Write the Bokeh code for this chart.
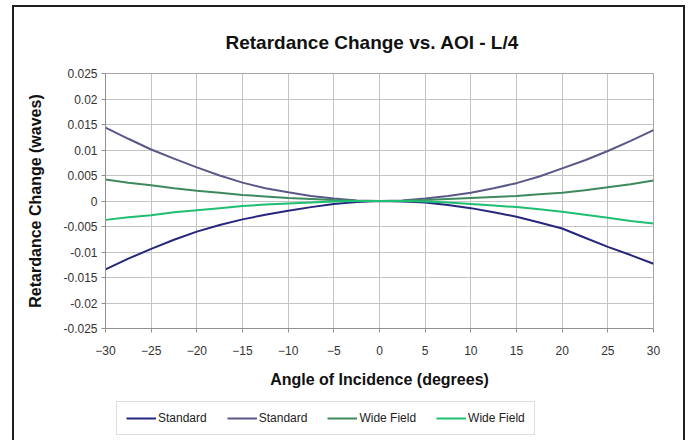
from bokeh.plotting import figure
from bokeh.models import FixedTicker, Legend, LegendItem
from bokeh.layouts import column
from bokeh.embed import file_html
from bokeh.resources import INLINE

# ---- data ----
angles = [-30, -27.5, -25, -22.5, -20, -17.5, -15, -12.5, -10, -7.5, -5, -2.5, 0,
          2.5, 5, 7.5, 10, 12.5, 15, 17.5, 20, 22.5, 25, 27.5, 30]

standard_low = [-0.0134, -0.0113, -0.0094, -0.0076, -0.0060, -0.0047, -0.0036, -0.0027,
                -0.0019, -0.0012, -0.0006, -0.0002, 0.0, -0.0001, -0.0003, -0.0008,
                -0.0014, -0.0022, -0.0031, -0.0042, -0.0054, -0.0072, -0.0090, -0.0106, -0.0123]
standard_high = [0.0144, 0.0122, 0.0101, 0.0083, 0.0066, 0.0050, 0.0036, 0.0025,
                 0.0017, 0.0010, 0.0005, 0.0001, 0.0, 0.0001, 0.0005, 0.0010,
                 0.0016, 0.0025, 0.0035, 0.0048, 0.0064, 0.0080, 0.0098, 0.0118, 0.0139]
wide_high = [0.0042, 0.0036, 0.0031, 0.0025, 0.0020, 0.0016, 0.0012, 0.0009,
             0.0006, 0.0004, 0.0002, 0.00005, 0.0, 0.00005, 0.0002, 0.0004,
             0.0006, 0.0008, 0.0010, 0.0013, 0.0016, 0.0021, 0.0027, 0.0033, 0.0040]
wide_low = [-0.0037, -0.0032, -0.0028, -0.0022, -0.0018, -0.0014, -0.0010, -0.0007,
            -0.0005, -0.0003, -0.0001, 0.0, 0.0, 0.0, -0.0001, -0.0003,
            -0.0006, -0.0009, -0.0012, -0.0016, -0.0021, -0.0027, -0.0033, -0.0039, -0.0044]

series_names = ["Standard", "Standard", "Wide Field", "Wide Field"]
series_colors = ["#26267e", "#5a5888", "#3e8a5e", "#1fbf72"]

x_ticks = [-30, -25, -20, -15, -10, -5, 0, 5, 10, 15, 20, 25, 30]
y_ticks = [-0.025, -0.02, -0.015, -0.01, -0.005, 0, 0.005, 0.01, 0.015, 0.02, 0.025]
y_tick_labels = ["-0.025", "-0.02", "-0.015", "-0.01", "-0.005", "0",
                 "0.005", "0.01", "0.015", "0.02", "0.025"]

FONT = "Liberation Sans"

p = figure(frame_width=548, frame_height=255, output_backend="svg", toolbar_location=None,
           x_range=(-30, 30), y_range=(-0.025, 0.025),
           min_border_left=91, min_border_right=30, min_border_top=66, min_border_bottom=67)

p.title.text = "Retardance Change vs. AOI - L/4"
p.title.align = "left"
p.title.offset = 120
p.title.text_font = FONT
p.title.text_font_size = "19px"
p.title.text_font_style = "bold"
p.title.text_color = "#111111"
p.title.standoff = 42

p.outline_line_color = "#a8a8a8"
p.background_fill_color = "white"
p.border_fill_color = "white"

for ax in (p.xaxis[0], p.yaxis[0]):
    ax.axis_line_color = "#909090"
    ax.major_tick_line_color = "#909090"
    ax.minor_tick_line_color = None
    ax.major_tick_out = 4
    ax.major_tick_in = 0
    ax.major_label_text_font = FONT
    ax.major_label_text_font_size = "12px"
    ax.major_label_text_color = "#333333"
    ax.axis_label_text_font = FONT
    ax.axis_label_text_font_size = "16px"
    ax.axis_label_text_font_style = "bold"
    ax.axis_label_text_color = "#111111"

p.xaxis.ticker = FixedTicker(ticks=x_ticks)
p.yaxis.ticker = FixedTicker(ticks=y_ticks)
p.yaxis.major_label_overrides = {t: l for t, l in zip(y_ticks, y_tick_labels)}
p.xaxis.axis_label = "Angle of Incidence (degrees)"
p.yaxis.axis_label = "Retardance Change (waves)"
p.xaxis.major_label_standoff = 13
p.xaxis.axis_label_standoff = 13
p.yaxis.major_label_standoff = 4
p.yaxis.axis_label_standoff = 16

p.xgrid.grid_line_color = "#c4c4c4"
p.ygrid.grid_line_color = "#c4c4c4"
p.xgrid.ticker = FixedTicker(ticks=x_ticks)
p.ygrid.ticker = FixedTicker(ticks=y_ticks)

all_series = [standard_low, standard_high, wide_high, wide_low]
for vals, col in zip(all_series, series_colors):
    p.line(angles, vals, line_color=col, line_width=2)

# ---- legend strip (separate figure below the chart) ----
# its ranges keep the series out of view; the series only supply legend glyphs
lf = figure(width=669, height=45, output_backend="svg", toolbar_location=None,
            x_range=(100, 101), y_range=(100, 101), min_border=0)
lf.axis.visible = False
lf.xgrid.visible = False
lf.ygrid.visible = False
lf.outline_line_color = None
lf.background_fill_color = "white"
lf.border_fill_color = "white"

leg_renderers = [lf.line(angles, vals, line_color=c, line_width=2)
                 for vals, c in zip(all_series, series_colors)]
legend = Legend(items=[LegendItem(label=n, renderers=[r]) for n, r in zip(series_names, leg_renderers)],
                orientation="horizontal", location=(11, 5))
legend.label_text_font = FONT
legend.label_text_font_size = "12px"
legend.label_text_color = "#222222"
legend.glyph_width = 30
legend.glyph_height = 14
legend.label_height = 14
legend.label_standoff = 2
legend.spacing = 20
legend.padding = 9
legend.margin = 0
legend.border_line_color = "#bdbdbd"
legend.border_line_width = 1
legend.background_fill_alpha = 1
lf.add_layout(legend, "center")

layout = column(p, lf, spacing=0)
layout.styles = {"margin-left": "12px", "margin-top": "5px", "border-left": "2px solid #202020",
                 "border-top": "2px solid #202020", "border-right": "2px solid #202020",
                 "background-color": "white"}

open("out.html", "w").write(file_html(layout, INLINE))
